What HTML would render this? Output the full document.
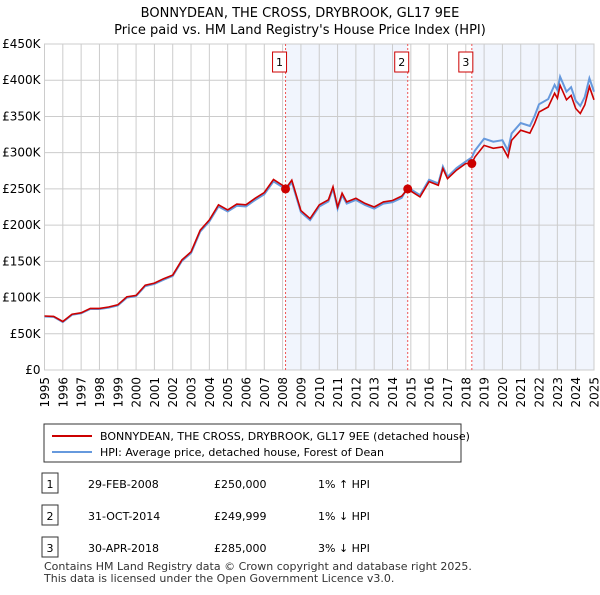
<!DOCTYPE html>
<html><head><meta charset="utf-8"><style>
body{margin:0;background:#fff;font-family:"Liberation Sans","DejaVu Sans",sans-serif;}
svg text{font-family:"DejaVu Sans","Liberation Sans",sans-serif;}
</style></head><body>
<svg id="chart" width="600" height="590" xmlns="http://www.w3.org/2000/svg">
<text x="300" y="17" text-anchor="middle" font-size="13">BONNYDEAN, THE CROSS, DRYBROOK, GL17 9EE</text>
<text x="300" y="34" text-anchor="middle" font-size="13">Price paid vs. HM Land Registry's House Price Index (HPI)</text>
<g id="plot"></g>
<g>
<rect x="44" y="424" width="417" height="38" fill="#fff" stroke="#333"/>
<line x1="52" y1="436" x2="92" y2="436" stroke="#cc0000" stroke-width="2"/>
<text x="100" y="440" font-size="11">BONNYDEAN, THE CROSS, DRYBROOK, GL17 9EE (detached house)</text>
<line x1="52" y1="452" x2="92" y2="452" stroke="#6699dd" stroke-width="2"/>
<text x="100" y="456" font-size="11">HPI: Average price, detached house, Forest of Dean</text>
</g>
<g id="table" font-size="11"></g>
<text x="44" y="570" font-size="11" fill="#333">Contains HM Land Registry data © Crown copyright and database right 2025.</text>
<text x="44" y="582" font-size="11" fill="#333">This data is licensed under the Open Government Licence v3.0.</text>
</svg>
<script>
const years=[1995,1995.5,1996,1996.5,1997,1997.5,1998,1998.5,1999,1999.5,2000,2000.5,2001,2001.5,2002,2002.5,2003,2003.5,2004,2004.5,2005,2005.5,2006,2006.5,2007,2007.5,2008,2008.16,2008.5,2009,2009.5,2010,2010.5,2010.75,2011,2011.25,2011.5,2012,2012.5,2013,2013.5,2014,2014.5,2014.83,2015,2015.5,2016,2016.5,2016.75,2017,2017.5,2018,2018.33,2018.5,2019,2019.5,2020,2020.3,2020.5,2021,2021.5,2021.75,2022,2022.5,2022.85,2023,2023.15,2023.5,2023.75,2024,2024.25,2024.5,2024.75,2025];
const priceSeries=[74.5,74,67,77,79,85,85,87,90,101,103,117,120,126,131,152,163,193,207,228,221,229,228,237,245,263,255,250,262,220,209,228,235,253,225,244,232,237,230,225,232,234,240,250,247,239,260,255,278,264,276,285,285,294,310,306,308,294,317,331,327,340,356,363,382,375,393,373,379,361,354,366,391,373];
const hpiSeries=[73.8,73.3,66.3,76.2,78.2,84.2,84.2,86.1,89.1,100,102,115.8,118.8,124.7,129.7,150.5,161.4,191,205,225.7,218.8,226.7,225.7,234.6,242.6,260.4,252.5,247.5,259.4,217.8,206.9,225.7,232.7,250.5,222.8,241.6,229.7,234.6,227.7,222.8,229.7,231.7,237.6,252.5,249.5,241.4,262.6,257.6,280.8,266.6,278.8,287.9,293.5,302.8,319.3,315.2,317.2,302.8,326.5,340.9,336.8,350.2,366.7,373.9,393.5,386.3,404.8,384.2,390.4,371.8,364.6,377,402.7,384.2];
const yTicks=[0,50,100,150,200,250,300,350,400,450];
const yTickLabels=["£0","£50K","£100K","£150K","£200K","£250K","£300K","£350K","£400K","£450K"];
const xTicks=[1995,1996,1997,1998,1999,2000,2001,2002,2003,2004,2005,2006,2007,2008,2009,2010,2011,2012,2013,2014,2015,2016,2017,2018,2019,2020,2021,2022,2023,2024,2025];
const saleYears=[2008.16,2014.83,2018.33];
const salePrices=[250,249.999,285];
const saleLabels=["1","2","3"];
const saleDates=["29-FEB-2008","31-OCT-2014","30-APR-2018"];
const salePriceText=["£250,000","£249,999","£285,000"];
const saleHpiText=["1% ↑ HPI","1% ↓ HPI","3% ↓ HPI"];

const X0=44.5,X1=594,Y0=370,Y1=44;
const xs=y=>X0+(y-1995)/30*(X1-X0);
const ys=v=>Y0-v/450*(Y0-Y1);
const NS="http://www.w3.org/2000/svg";
const plot=document.getElementById('plot');
function mk(tag,attrs,parent){const e=document.createElementNS(NS,tag);for(const k in attrs)e.setAttribute(k,attrs[k]);(parent||plot).appendChild(e);return e;}
let sh=mk('rect',{x:xs(saleYears[0]),y:Y1,width:xs(saleYears[1])-xs(saleYears[0]),height:Y0-Y1,fill:'#eef2fc',opacity:0.8});


let sh2=mk('rect',{x:xs(saleYears[2]),y:Y1,width:X1-xs(saleYears[2]),height:Y0-Y1,fill:'#eef2fc',opacity:0.8});


yTicks.forEach((t,i)=>{
 let g=mk('line',{x1:X0,x2:X1,y1:ys(t),y2:ys(t),stroke:'#ccc'});
 
 
 let tx=mk('text',{x:X0-4,y:ys(t)+4,'text-anchor':'end','font-size':12});
 tx.textContent=yTickLabels[i];
 
 
});
xTicks.forEach(t=>{
 let g=mk('line',{x1:xs(t),x2:xs(t),y1:Y1,y2:Y0,stroke:'#ccc'});
 
 
 const lx=xs(t)+4.5, ly=377;
 let tx=mk('text',{x:lx,y:ly,'text-anchor':'end','font-size':12,transform:`rotate(-90 ${lx} ${ly})`});
 tx.textContent=t;
 
 
});
let fr=mk('rect',{x:X0,y:Y1,width:X1-X0,height:Y0-Y1,fill:'none',stroke:'#ccc'});


function path(vals){return vals.map((v,i)=>(i?'L':'M')+xs(years[i]).toFixed(1)+','+ys(v).toFixed(1)).join('');}
let hp=mk('path',{d:path(hpiSeries),fill:'none',stroke:'#6699dd','stroke-width':2});


let pp=mk('path',{d:path(priceSeries),fill:'none',stroke:'#cc0000','stroke-width':1.6});


saleYears.forEach((y,i)=>{
 let l=mk('line',{x1:xs(y),x2:xs(y),y1:Y1,y2:Y0,stroke:'#ee5555','stroke-dasharray':'2,2'});
 
 
 let c=mk('circle',{cx:xs(y),cy:ys(salePrices[i]),r:4.5,fill:'#cc0000'});
 
 
 let b=mk('rect',{x:xs(y)-13,y:52,width:14,height:20,fill:'#fff',stroke:'#cc0000'});
 
 
 let t=mk('text',{x:xs(y)-6,y:66,'text-anchor':'middle','font-size':11});
 t.textContent=saleLabels[i];
 
 
});
const tbl=document.getElementById('table');
saleLabels.forEach((s,i)=>{
 const y=484+i*32;
 let b=mk('rect',{x:42,y:y-11,width:16,height:20,fill:'#fff',stroke:'#333'},tbl);
 
 
 const cells=[[50,s,'middle'],[88,saleDates[i],'start'],[214,salePriceText[i],'start'],[318,saleHpiText[i],'start']];
 cells.forEach(c=>{
  let t=mk('text',{x:c[0],y:y+4,'text-anchor':c[2]},tbl);
  t.textContent=c[1];
  
  
 });
});
</script>
</body></html>
